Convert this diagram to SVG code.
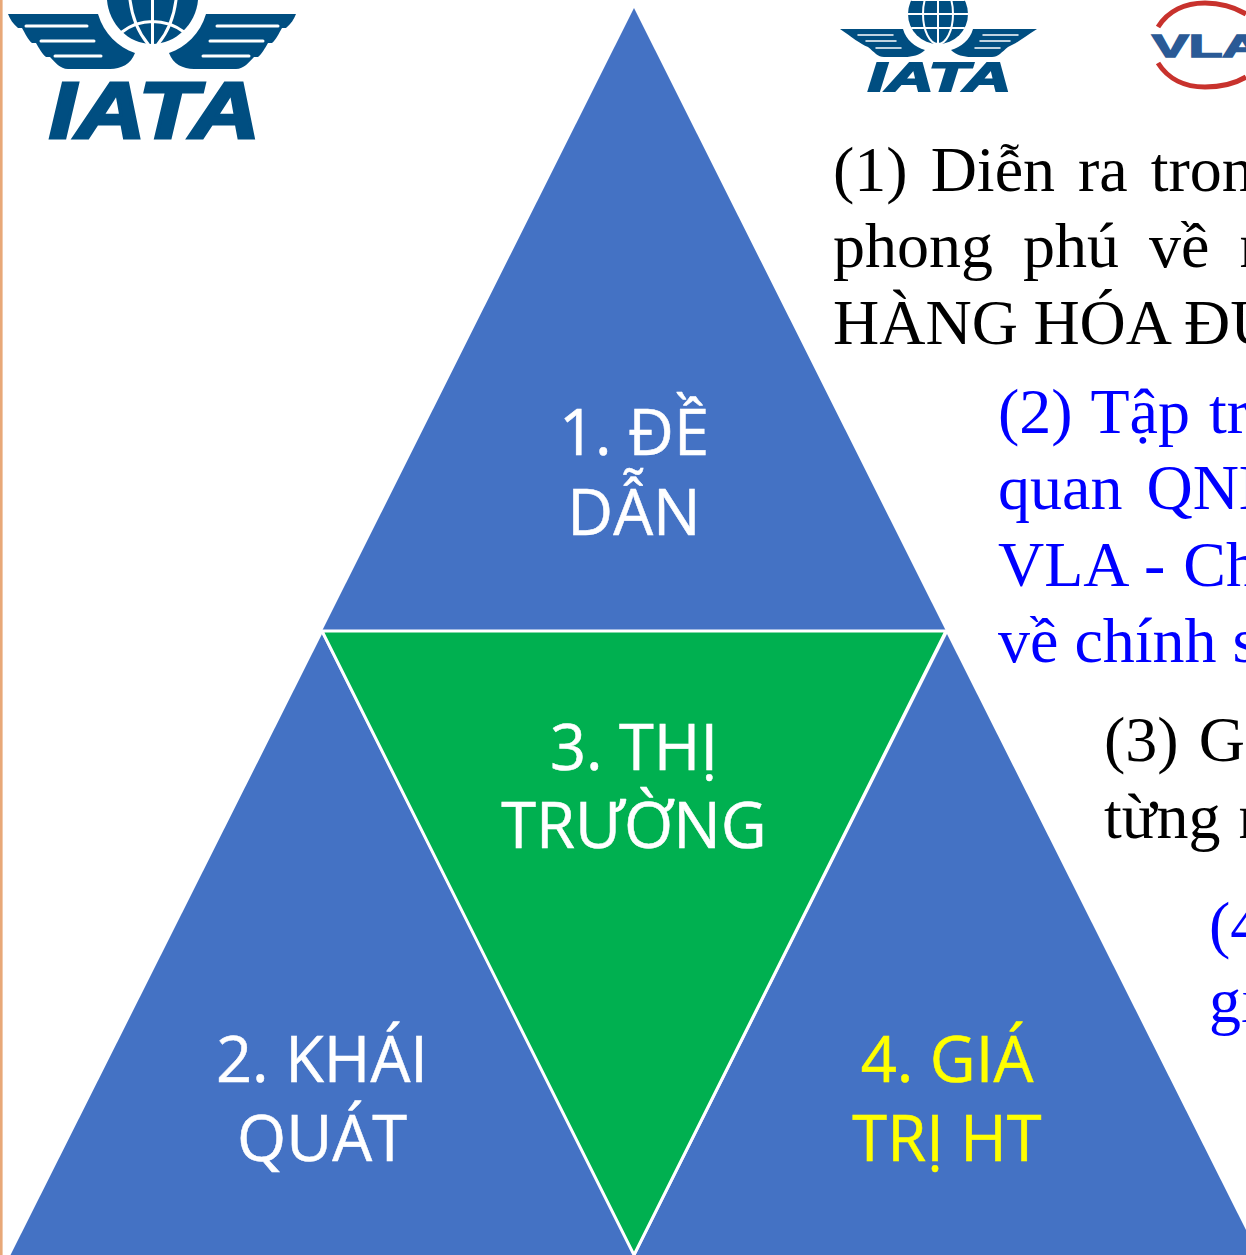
<svg xmlns="http://www.w3.org/2000/svg" width="1246" height="1255" viewBox="0 0 1246 1255">
<style>
.lbl{font-family:"Open Sans","Noto Sans",sans-serif;font-size:63.2px;text-anchor:middle;fill:#fff;stroke:#fff;stroke-width:.5px}
.yel{fill:#ffff00;stroke:#ffff00}
.body{font-family:"Liberation Serif",serif;font-size:64px;fill:#000}
.blue{fill:#0000ff}
.logo{font-family:"Liberation Sans",sans-serif;font-weight:bold;font-style:italic;fill:#004e81;stroke:#004e81}
.blu{fill:#4472c4}
.wing{fill:#004e81}
.gap{fill:none;stroke:#fff;stroke-linecap:round}
</style>
<rect width="1246" height="1255" fill="#fff"/>
<rect id="edge" x="0" y="0" width="2.6" height="1255" fill="#e8a878"/>
<g id="logo-iata-large">
<path id="wing-l" class="wing" d="M8 14H98C104 34 118 47 135 53C131 64 121 69 110 69H68C60 69 55 62 50 57H46C42 54 39 48 36 43H32C28 40 25 33 22 28H18C13 24 10 19 8 14Z"/>
<path class="gap" stroke-width="3" d="M26 26H87M41 41H94M55 56H101"/>
<path class="wing" d="M296 14H206C200 34 186 47 169 53C173 64 183 69 194 69H236C244 69 249 62 254 57H258C262 54 265 48 268 43H272C276 40 279 33 282 28H286C291 24 294 19 296 14Z"/>
<path class="gap" stroke-width="3" d="M278 26H217M263 41H210M249 56H203"/>
<path class="wing" d="M107 0H198C196 24 176 44 152 44C128 44 109 24 107 0Z"/>
<path class="gap" stroke-width="3" d="M130 0C132 16 138 32 148 44M176 0C174 16 168 32 158 44M152.500 0V44M122 32C140 18 165 18 184 32"/>
<text class="logo" x="49" y="137.500" font-size="79" stroke-width="3" textLength="211" lengthAdjust="spacingAndGlyphs">IATA</text>
</g>
<g id="logo-iata-small">
<circle cx="938" cy="14" r="30" class="wing"/>
<path class="gap" stroke-width="2" d="M938 -16V44M908 14H968M912 0H964M912 28H964"/>
<ellipse cx="938" cy="14" rx="15" ry="30" fill="none" stroke="#fff" stroke-width="2"/>
<path class="wing" d="M840 29H903C906 40 915 47 925 50C920 55 912 57 905 57H884C878 57 874 52 868 47C860 44 852 37 840 29Z"/>
<path class="gap" stroke-width="1.500" d="M858 35H893M866 41H896M876 48H901"/>
<path class="wing" d="M1037 29H973C970 40 961 47 951 50C956 55 964 57 971 57H992C998 57 1002 52 1008 47C1016 44 1024 37 1037 29Z"/>
<path class="gap" stroke-width="1.500" d="M1018 35H983M1010 41H980M1000 48H975"/>
<text class="logo" x="868" y="91" font-size="41" stroke-width="2" textLength="143" lengthAdjust="spacingAndGlyphs">IATA</text>
</g>
<g id="logo-vla">
<path d="M1158 27C1168 11 1185 3 1205 3C1222 3 1236 8 1246 14" fill="none" stroke="#c8322d" stroke-width="5"/>
<path d="M1158 63C1168 79 1185 87 1205 87C1222 87 1236 83 1246 77" fill="none" stroke="#c8322d" stroke-width="5"/>
<text x="1152" y="56.500" font-family="'Liberation Sans',sans-serif" font-weight="bold" font-size="31" fill="#2a5a96" stroke="#2a5a96" stroke-width="1.500" textLength="110" lengthAdjust="spacingAndGlyphs">VLA</text>
</g>
<g id="node-1"><polygon class="blu" points="634,8 946,631 322,631"/><text class="lbl" x="634" y="455">1. ĐỀ</text><text class="lbl" x="634" y="535">DẪN</text></g>
<g id="node-2"><polygon class="blu" points="322,634 635,1258 9,1258"/><text class="lbl" x="322" y="1082">2. KHÁI</text><text class="lbl" x="322" y="1161">QUÁT</text></g>
<g id="node-4"><polygon class="blu" points="947,634 1260,1258 634,1258"/><text class="lbl yel" x="947" y="1082">4. GIÁ</text><text class="lbl yel" x="947" y="1161">TRỊ HT</text></g>
<g id="node-3"><polygon points="322,631 946,631 634,1255" fill="#00b050" stroke="#fff" stroke-width="3"/><text class="lbl" x="634" y="770">3. THỊ</text><text class="lbl" x="634" y="848">TRƯỜNG</text></g>
<g id="connectors"></g>
<g id="text-1" class="body"><text x="833" y="190.500" word-spacing="7">(1) Diễn ra tron</text><text x="833" y="267" word-spacing="14">phong phú về n</text><text x="833" y="343.500" word-spacing="-.5">HÀNG HÓA ĐƯ</text></g>
<g id="text-2"><text class="body blue" x="998" y="432.500" word-spacing="3">(2) Tập tr</text><text class="body blue" x="998" y="509" word-spacing="8">quan QNH</text><text class="body blue" x="998" y="585.500" word-spacing="2">VLA - Ch</text><text class="body blue" x="998" y="662">về chính s</text></g>
<g id="text-3" class="body"><text x="1104" y="761" word-spacing="4">(3) Gi</text><text x="1104" y="838" word-spacing="2">từng n</text></g>
<g id="text-4"><text class="body blue" x="1209" y="946">(4</text><text class="body blue" x="1209" y="1022">gi</text></g>
</svg>
